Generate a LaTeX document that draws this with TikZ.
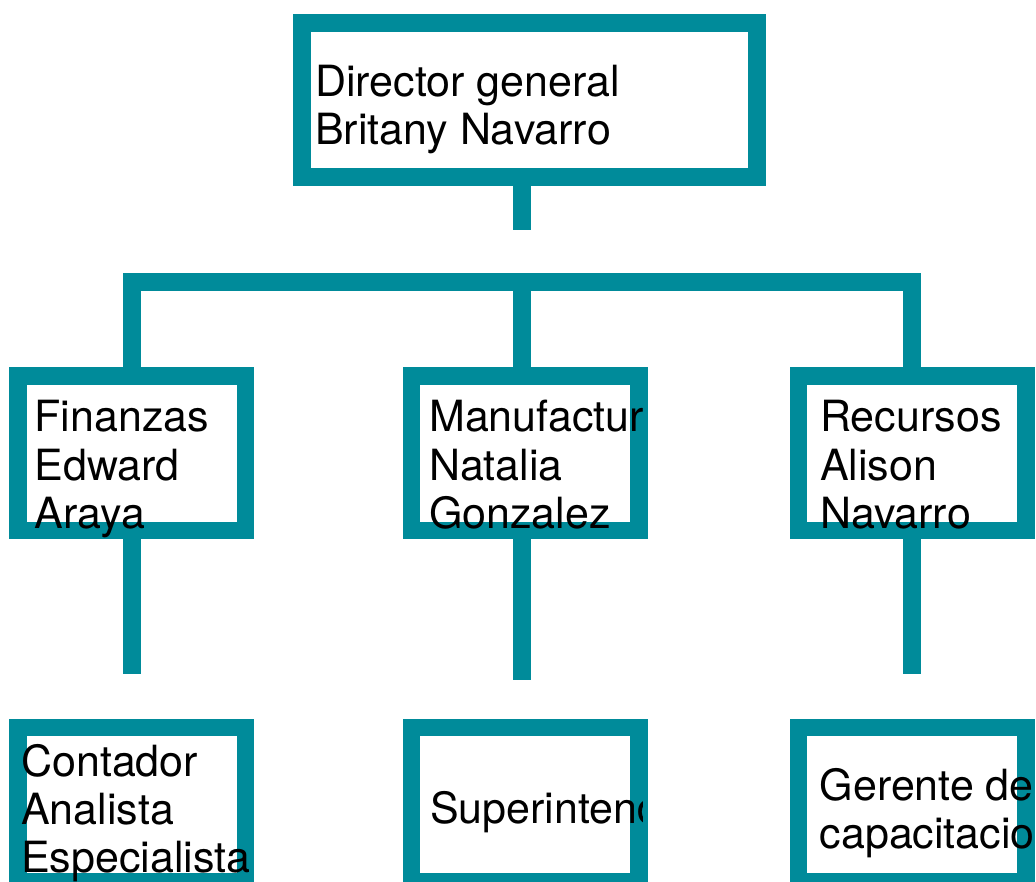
\documentclass[tikz,border=0pt]{standalone}
\usepackage{fontspec}
\setmainfont{TeX Gyre Heros}
\usetikzlibrary{positioning}
\definecolor{azulverde}{RGB}{0,139,154}
\tikzstyle{caja} = [rectangle, draw=azulverde, line width=17.6pt, fill=white, inner sep=0pt]
\tikzstyle{cajamedia} = [caja, minimum width=227.4pt, minimum height=154.4pt]
\tikzstyle{linea} = [draw=azulverde, line width=17.6pt]
\tikzstyle{texto} = [inner sep=0pt, anchor=base west, align=left, font=\fontsize{43}{48.3}\selectfont]

\begin{document}
\begin{tikzpicture}[x=1pt,y=-1pt]
	\useasboundingbox (0,0) rectangle (1036,882);
	% cajas
	\node (dir) at (529.5,100) [caja, minimum width=454.8pt, minimum height=154.4pt] {};
	\node (fin) at (131.8,453.3) [cajamedia] {};
	\node (man) at (525.2,453.3) [cajamedia] {};
	\node (rec) at (912.2,453.3) [cajamedia] {};
	\node (con) at (131.8,804.7) [cajamedia] {};
	\node (sup) at (525.2,804.7) [cajamedia] {};
	\node (ger) at (912.2,804.7) [cajamedia] {};
	% conectores
	\coordinate (dirtallo) at (522,230);
	\coordinate (barra) at (522,282);
	\coordinate (fintallo) at (131.8,674);
	\coordinate (mantallo) at (522,680);
	\coordinate (rectallo) at (912.2,674);
	\draw[linea] (dir.south -| dirtallo) -- (dirtallo);
	\draw[linea] (fin.north) |- (barra) -| (rec.north);
	\draw[linea] (barra) -- (barra |- man.north);
	\draw[linea] (fin.south) -- (fintallo);
	\draw[linea] (man.south -| mantallo) -- (mantallo);
	\draw[linea] (rec.south) -- (rectallo);
	% textos (base = ultima linea)
	\node[texto] (tdir) at (315,145) {Director general\\Britany Navarro};
	\node[texto] (tfin) at (34.5,528.3) {Finanzas\\Edward\\Araya};
	\node[texto] (trec) at (820,528.3) {Recursos\\Alison\\Navarro};
	\node[texto] (tcon) at (21,872.6) {Contador\\Analista\\Especialista};
	\node[texto] (tger) at (819.5,848.3) {Gerente de\\capacitacion};
	\begin{scope}
		\clip (0,0) rectangle (642,882);
		\node[texto] (tman) at (429,528.3) {Manufactura\\Natalia\\Gonzalez};
		\node[texto] (tsup) at (430,823) {Superintendente};
	\end{scope}
\end{tikzpicture}
\end{document}
